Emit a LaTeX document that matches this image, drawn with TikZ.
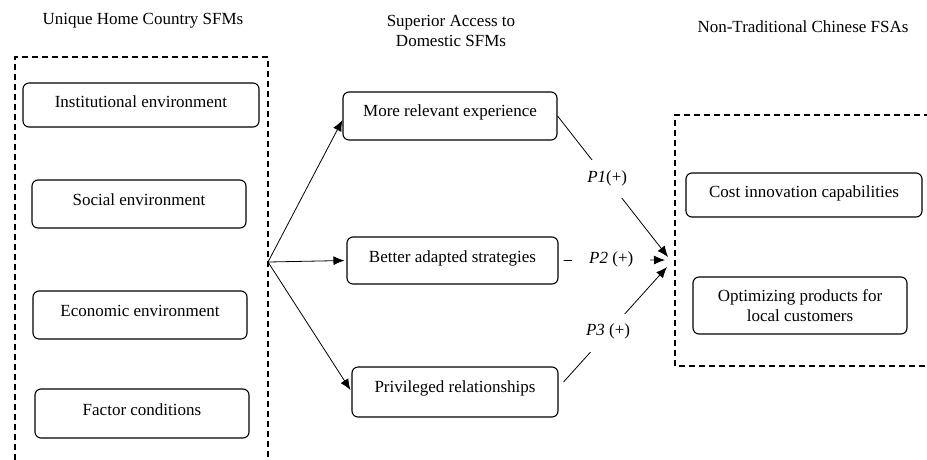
\documentclass[tikz,border=0pt]{standalone}
\usepackage{fontspec}
\setmainfont{Liberation Serif}
\usetikzlibrary{arrows.meta}
\newcommand{\fsz}{\fontsize{17}{20}\selectfont}
\begin{document}
\begin{tikzpicture}[x=1pt,y=-1pt,
  every node/.style={font=\fsz},
  boxbase/.style={draw, rounded corners=6pt, line width=1.1pt, inner sep=0pt, align=center},
  box/.style={boxbase, text height=10pt, text depth=7pt},
  group/.style={draw, dashed, dash pattern=on 6pt off 4pt, line width=1.2pt},
  arr/.style={line width=0.8pt, -{Latex[length=11pt,width=9pt]}},
  lbl/.style={fill=white, inner xsep=17pt, inner ysep=12pt, text height=10pt, text depth=4pt}]
\clip (0,0) rectangle (927,459);
\fill[white] (0,0) rectangle (927,459);
% titles
\node (t1) at (143,21) {Unique Home Country SFMs};
\node[align=center] (t2) at (451,31) {Superior Access to\\Domestic SFMs};
\node (t3) at (803,27) {Non-Traditional Chinese FSAs};
% groups
\draw[group] (15,470) -- (15,57) -- (268,57) -- (268,470);
\draw[group] (940,115) -- (675,115) -- (675,366) -- (940,366);
% left boxes
\node[box, minimum width=236pt, minimum height=44pt, text depth=5pt] (inst) at (141,105) {Institutional environment};
\node[box, minimum width=214pt, minimum height=48pt] (soc) at (139,204) {Social environment};
\node[box, minimum width=214pt, minimum height=48pt] (eco) at (140,315) {Economic environment};
\node[box, minimum width=214pt, minimum height=49pt] (fac) at (142,413.5) {Factor conditions};
% middle boxes
\node[box, minimum width=214pt, minimum height=48pt, text depth=9pt] (mre) at (450,116) {More relevant experience};
\node[box, minimum width=211pt, minimum height=47pt] (bas) at (452.5,260.5) {Better adapted strategies};
\node[box, minimum width=206pt, minimum height=50pt, text depth=9pt] (pri) at (455,392) {Privileged relationships};
% right boxes
\node[box, minimum width=236pt, minimum height=44pt, text depth=5pt] (cost) at (804,195) {Cost innovation capabilities};
\node[boxbase, minimum width=214pt, minimum height=57pt] (opt) at (800,305.5) {Optimizing products for\\local customers};
% connectors
\coordinate (br) at (268,262);
\coordinate (e1) at (668,257);
\coordinate (e2) at (665,260);
\coordinate (e3) at (667,267);
\draw[arr] (br) -- ([yshift=-4pt]mre.west);
\draw[arr] (br) -- ([xshift=-2pt]bas.west);
\draw[arr] (br) -- ([xshift=-1pt,yshift=2pt]pri.west);
\draw[arr] (mre.east) -- node[lbl, pos=0.45] {\textit{P1}(+)} (e1);
\draw[arr] ([xshift=5pt]bas.east) -- node[lbl, pos=0.47] {\textit{P2} (+)} (e2);
\draw[arr] ([xshift=5pt,yshift=10pt]pri.east) -- node[lbl, pos=0.43] {\textit{P3} (+)} (e3);
\end{tikzpicture}
\end{document}
